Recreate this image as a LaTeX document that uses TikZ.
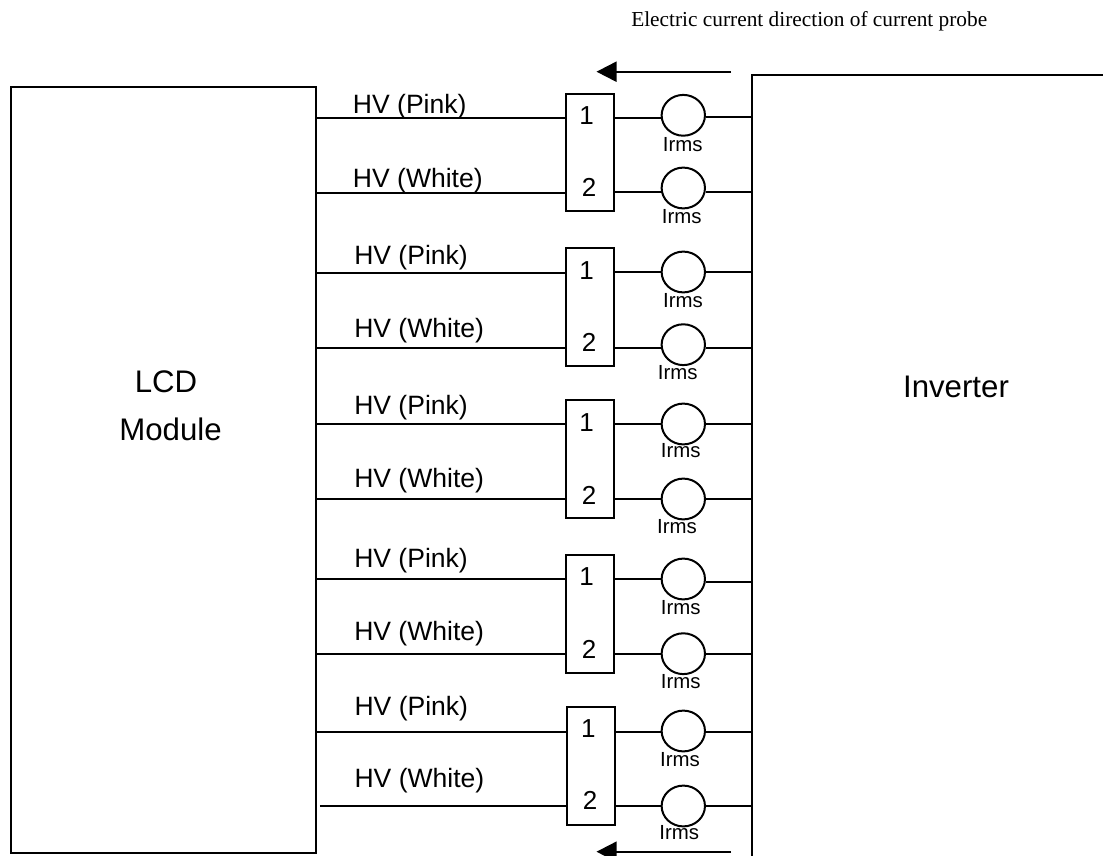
\documentclass[tikz,border=0pt]{standalone}
\usepackage{fontspec}
\setmainfont{Liberation Sans}
\newfontfamily\serifface{Liberation Serif}
\usetikzlibrary{arrows.meta,shapes.geometric}
\tikzset{
  x=0.75pt,y=-0.75pt,
  line/.style={line width=1.5pt,black},
  block/.style={draw,line width=1.5pt,rectangle,inner sep=0pt},
  conn/.style={block,minimum width=36pt,minimum height=88.1pt},
  probe/.style={draw,line width=1.5pt,ellipse,inner sep=0pt,minimum width=32.5pt,minimum height=30.6pt},
  hv/.style={anchor=base west,inner sep=0pt,font=\fontsize{19.9pt}{21pt}\selectfont},
  digit/.style={inner sep=0pt,font=\fontsize{19.5pt}{20pt}\selectfont},
  irms/.style={inner sep=0pt,font=\fontsize{15.3pt}{16pt}\selectfont},
  big/.style={inner sep=0pt,font=\fontsize{23.4pt}{24pt}\selectfont},
  dirarrow/.style={line,-{Triangle[length=15pt,width=15pt]}},
}
\begin{document}
\begin{tikzpicture}
\useasboundingbox (0,0) rectangle (1103,856);
% main blocks
\node[block,minimum width=228.75pt,minimum height=574.5pt] (lcd) at (163,470) {};
\node[big] (lcdA) at (166,381.7) {LCD};
\node[big] (lcdB) at (170.5,429.5) {Module};
\coordinate (invTL) at (752,75.5);
\coordinate (invTR) at (1103,75.5);
\coordinate (invB) at (752,856);
\draw[line] (invTR) -- (invTL) -- (invB);
\node[big] (inv) at (956,387) {Inverter};
% connectors
\foreach \n/\x/\y in {b1/589.5/152.5, b2/589.5/307.2, b3/589.5/459.2, b4/589.5/613.8, b5/591.3/766.2}
  \node[conn] (\n) at (\x,\y) {};
% probes and wires:
% id / box / left wire y / mid wire y / right wire y / probe y / Irms x / Irms y / HV x / HV base / digit x / digit y / digit / colour / wire start shift
\foreach \i/\b/\wl/\wm/\wr/\cy/\ix/\iy/\hx/\hy/\dx/\dy/\d/\c/\s in {
  p1/b1/118/117.5/117/115.3/682.7/144.3/352.7/113.3/586.7/115.7/1/Pink/0,
  p2/b1/192.7/192/192/188/681.7/216.7/352.7/187/589/187.7/2/White/0,
  p3/b2/272.7/271.7/271.7/272/683/300.7/354/264/586.7/270.7/1/Pink/0,
  p4/b2/347.7/347.7/347.7/344.7/677.7/372.7/354/337/589/342.7/2/White/0,
  p5/b3/424.3/423.7/423.7/424/680.7/451/354/414/586.7/422.3/1/Pink/0,
  p6/b3/499/499/499/499/677/526.7/354/487/589/495/2/White/0,
  p7/b4/579/579/581.7/579/680.7/607.7/354/567/586.7/576.7/1/Pink/0,
  p8/b4/654/654/653.7/653.7/680.7/681.7/354/640/589/649.3/2/White/0,
  p9/b5/731.7/731.7/731.7/731/680/760/354.3/715/588.3/729/1/Pink/0,
  p10/b5/806/806/806/806/679.3/832.7/354.3/787/590/800.7/2/White/2.5}
{
  \node[probe] (\i) at (683.3,\cy) {};
  \node[irms] (\i-t) at (\ix,\iy) {Irms};
  \node[digit] (\i-d) at (\dx,\dy) {\d};
  \node[hv] (\i-h) at (\hx,\hy) {HV (\c)};
  \draw[line] ([xshift=\s pt]lcd.east |- 0,\wl) -- (\b.west |- 0,\wl);
  \draw[line] (\b.east |- 0,\wm) -- (\i.west |- 0,\wm);
  \draw[line] (\i.east |- 0,\wr) -- (invTL |- 0,\wr);
}
% current direction
\node[inner sep=0pt,anchor=base west,font=\serifface\fontsize{16pt}{18pt}\selectfont] (title) at (631,26.7) {Electric current direction of current probe};
\coordinate (a1s) at (731,71.7);
\coordinate (a1e) at (596.5,71.7);
\coordinate (a2s) at (731,851.7);
\coordinate (a2e) at (596.5,851.7);
\draw[dirarrow] (a1s) -- (a1e);
\draw[dirarrow] (a2s) -- (a2e);
\end{tikzpicture}
\end{document}
